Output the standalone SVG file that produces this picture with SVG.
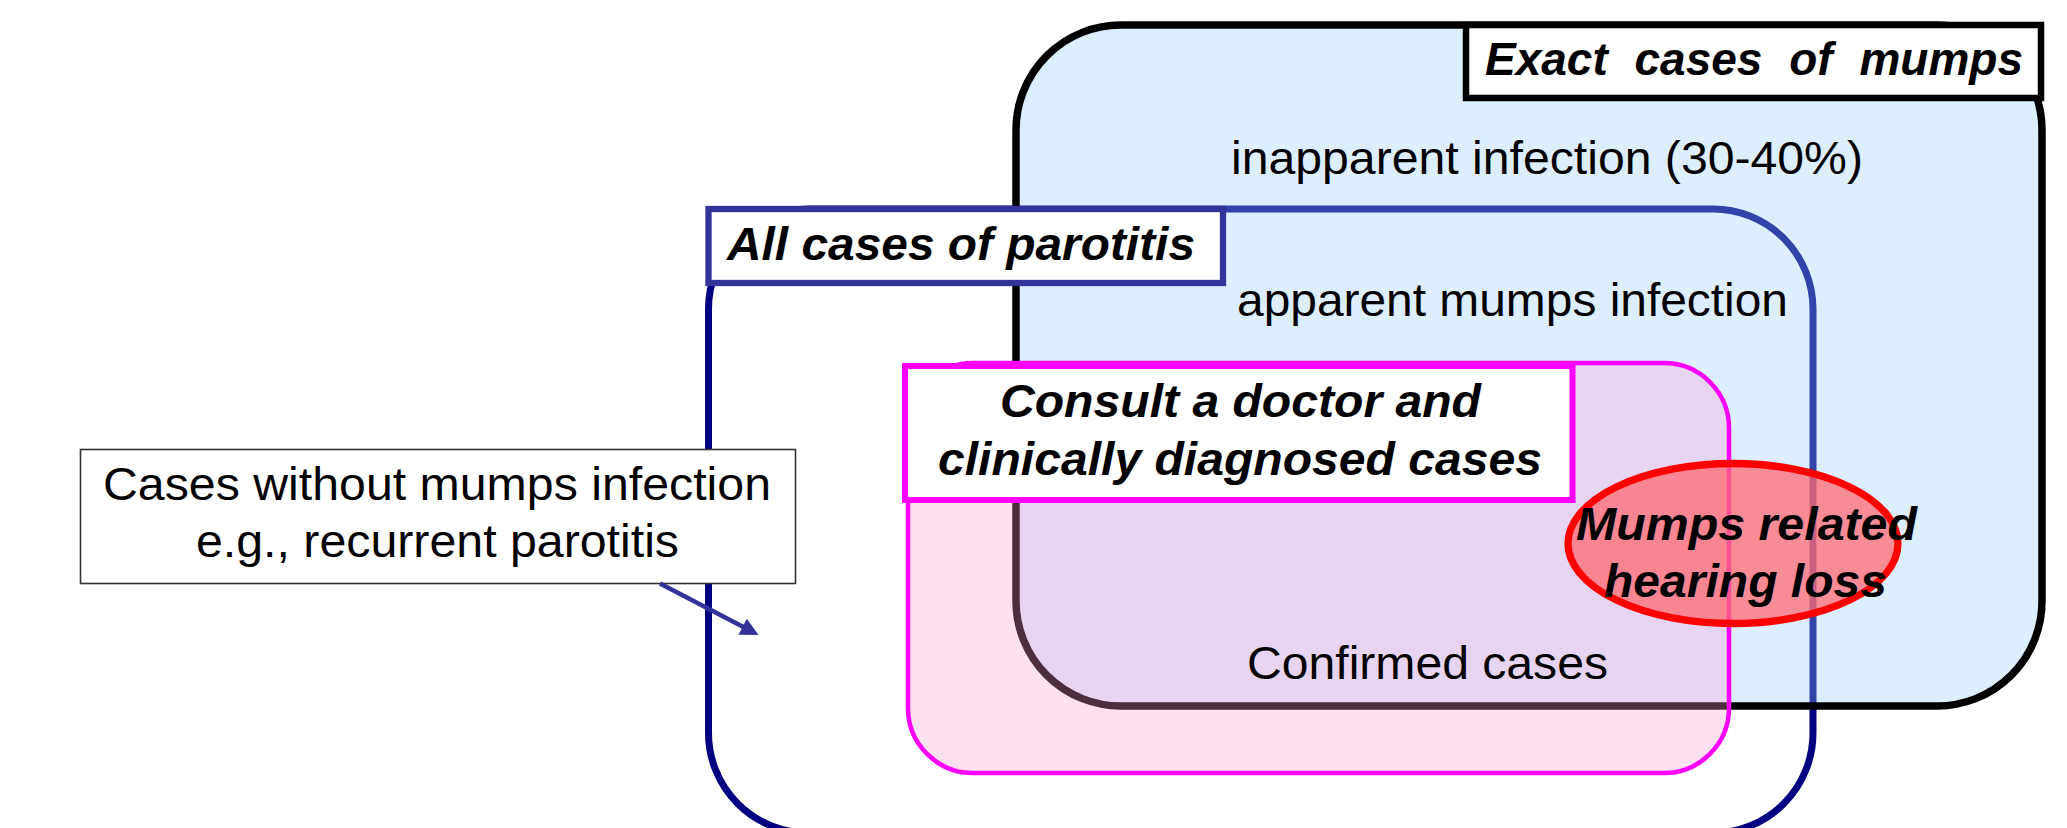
<svg xmlns="http://www.w3.org/2000/svg" width="2067" height="828" viewBox="0 0 2067 828">
  <style>
    .lbl { font-family: "Liberation Sans", Arial, "Helvetica", sans-serif; font-size: 46px; font-weight: bold; font-style: italic; fill: #000; }
    .reg { font-family: "Liberation Sans", Arial, "Helvetica", sans-serif; font-size: 46px; fill: #000; }
    .labelbox { fill: #ffffff; }
  </style>
  <defs>
    <marker id="arrowhead" viewBox="0 0 10 10" refX="5.3" refY="5" markerWidth="4.5" markerHeight="4" orient="auto" markerUnits="strokeWidth">
      <path d="M0,0 L10,5 L0,10 z" fill="#333399"/>
    </marker>
  </defs>
  <rect width="2067" height="828" fill="#ffffff"/>

  <!-- All cases of parotitis: outer region -->
  <g id="parotitis-region">
    <rect x="708.5" y="209" width="1104.5" height="624" rx="100" ry="100" fill="none" stroke="#000080" stroke-width="7"/>
  </g>

  <!-- Exact cases of mumps: region -->
  <g id="mumps-region">
    <rect x="1016" y="25" width="1026" height="681" rx="105" ry="105" fill="#99CCFF" fill-opacity="0.33" stroke="#000000" stroke-width="7.5"/>
  </g>

  <!-- Consult a doctor and clinically diagnosed cases: region -->
  <g id="clinical-region">
    <rect x="908" y="363" width="821" height="410" rx="65" ry="65" fill="#FF99CC" fill-opacity="0.3" stroke="#FF00FF" stroke-width="4.5"/>
  </g>

  <!-- Mumps related hearing loss -->
  <g id="hearing-loss">
    <ellipse cx="1733" cy="543.5" rx="165" ry="80" fill="#FF6B73" fill-opacity="0.75" stroke="#FF0000" stroke-width="7.3"/>
  </g>

  <!-- region texts -->
  <g id="region-texts">
    <text class="reg" x="1231" y="174" textLength="632" lengthAdjust="spacingAndGlyphs">inapparent infection (30-40%)</text>
    <text class="reg" x="1237" y="316" textLength="551" lengthAdjust="spacingAndGlyphs">apparent mumps infection</text>
    <text class="reg" x="1247" y="679" textLength="361" lengthAdjust="spacingAndGlyphs">Confirmed cases</text>
  </g>

  <!-- labels -->
  <g id="mumps-label">
    <rect class="labelbox" x="1466" y="25" width="575" height="73" stroke="#000000" stroke-width="6.5"/>
    <text class="lbl" x="1485" y="75" word-spacing="14">Exact cases of mumps</text>
  </g>

  <g id="parotitis-label">
    <rect class="labelbox" x="708.5" y="209" width="514.5" height="74" stroke="#333399" stroke-width="6.3"/>
    <text class="lbl" x="727" y="260" textLength="468" lengthAdjust="spacingAndGlyphs">All cases of parotitis</text>
  </g>

  <g id="clinical-label">
    <rect class="labelbox" x="905" y="366" width="667.5" height="134" stroke="#FF00FF" stroke-width="6"/>
    <text class="lbl" x="1000" y="417" textLength="481" lengthAdjust="spacingAndGlyphs">Consult a doctor and</text>
    <text class="lbl" x="938" y="475" textLength="604" lengthAdjust="spacingAndGlyphs">clinically diagnosed cases</text>
  </g>

  <g id="hearing-loss-label">
    <text class="lbl" x="1576" y="540" textLength="341" lengthAdjust="spacingAndGlyphs">Mumps related</text>
    <text class="lbl" x="1604" y="597" textLength="283" lengthAdjust="spacingAndGlyphs">hearing loss</text>
  </g>

  <g id="non-mumps-note">
    <rect class="labelbox" x="80.5" y="449.5" width="715" height="134" stroke="#333333" stroke-width="1.6"/>
    <text class="reg" x="103" y="500" textLength="668" lengthAdjust="spacingAndGlyphs">Cases without mumps infection</text>
    <text class="reg" x="196" y="557" textLength="483" lengthAdjust="spacingAndGlyphs">e.g., recurrent parotitis</text>
  </g>

  <g id="connectors">
    <line x1="660" y1="583.5" x2="751.1" y2="631.1" stroke="#333399" stroke-width="4.5" marker-end="url(#arrowhead)"/>
  </g>
</svg>
